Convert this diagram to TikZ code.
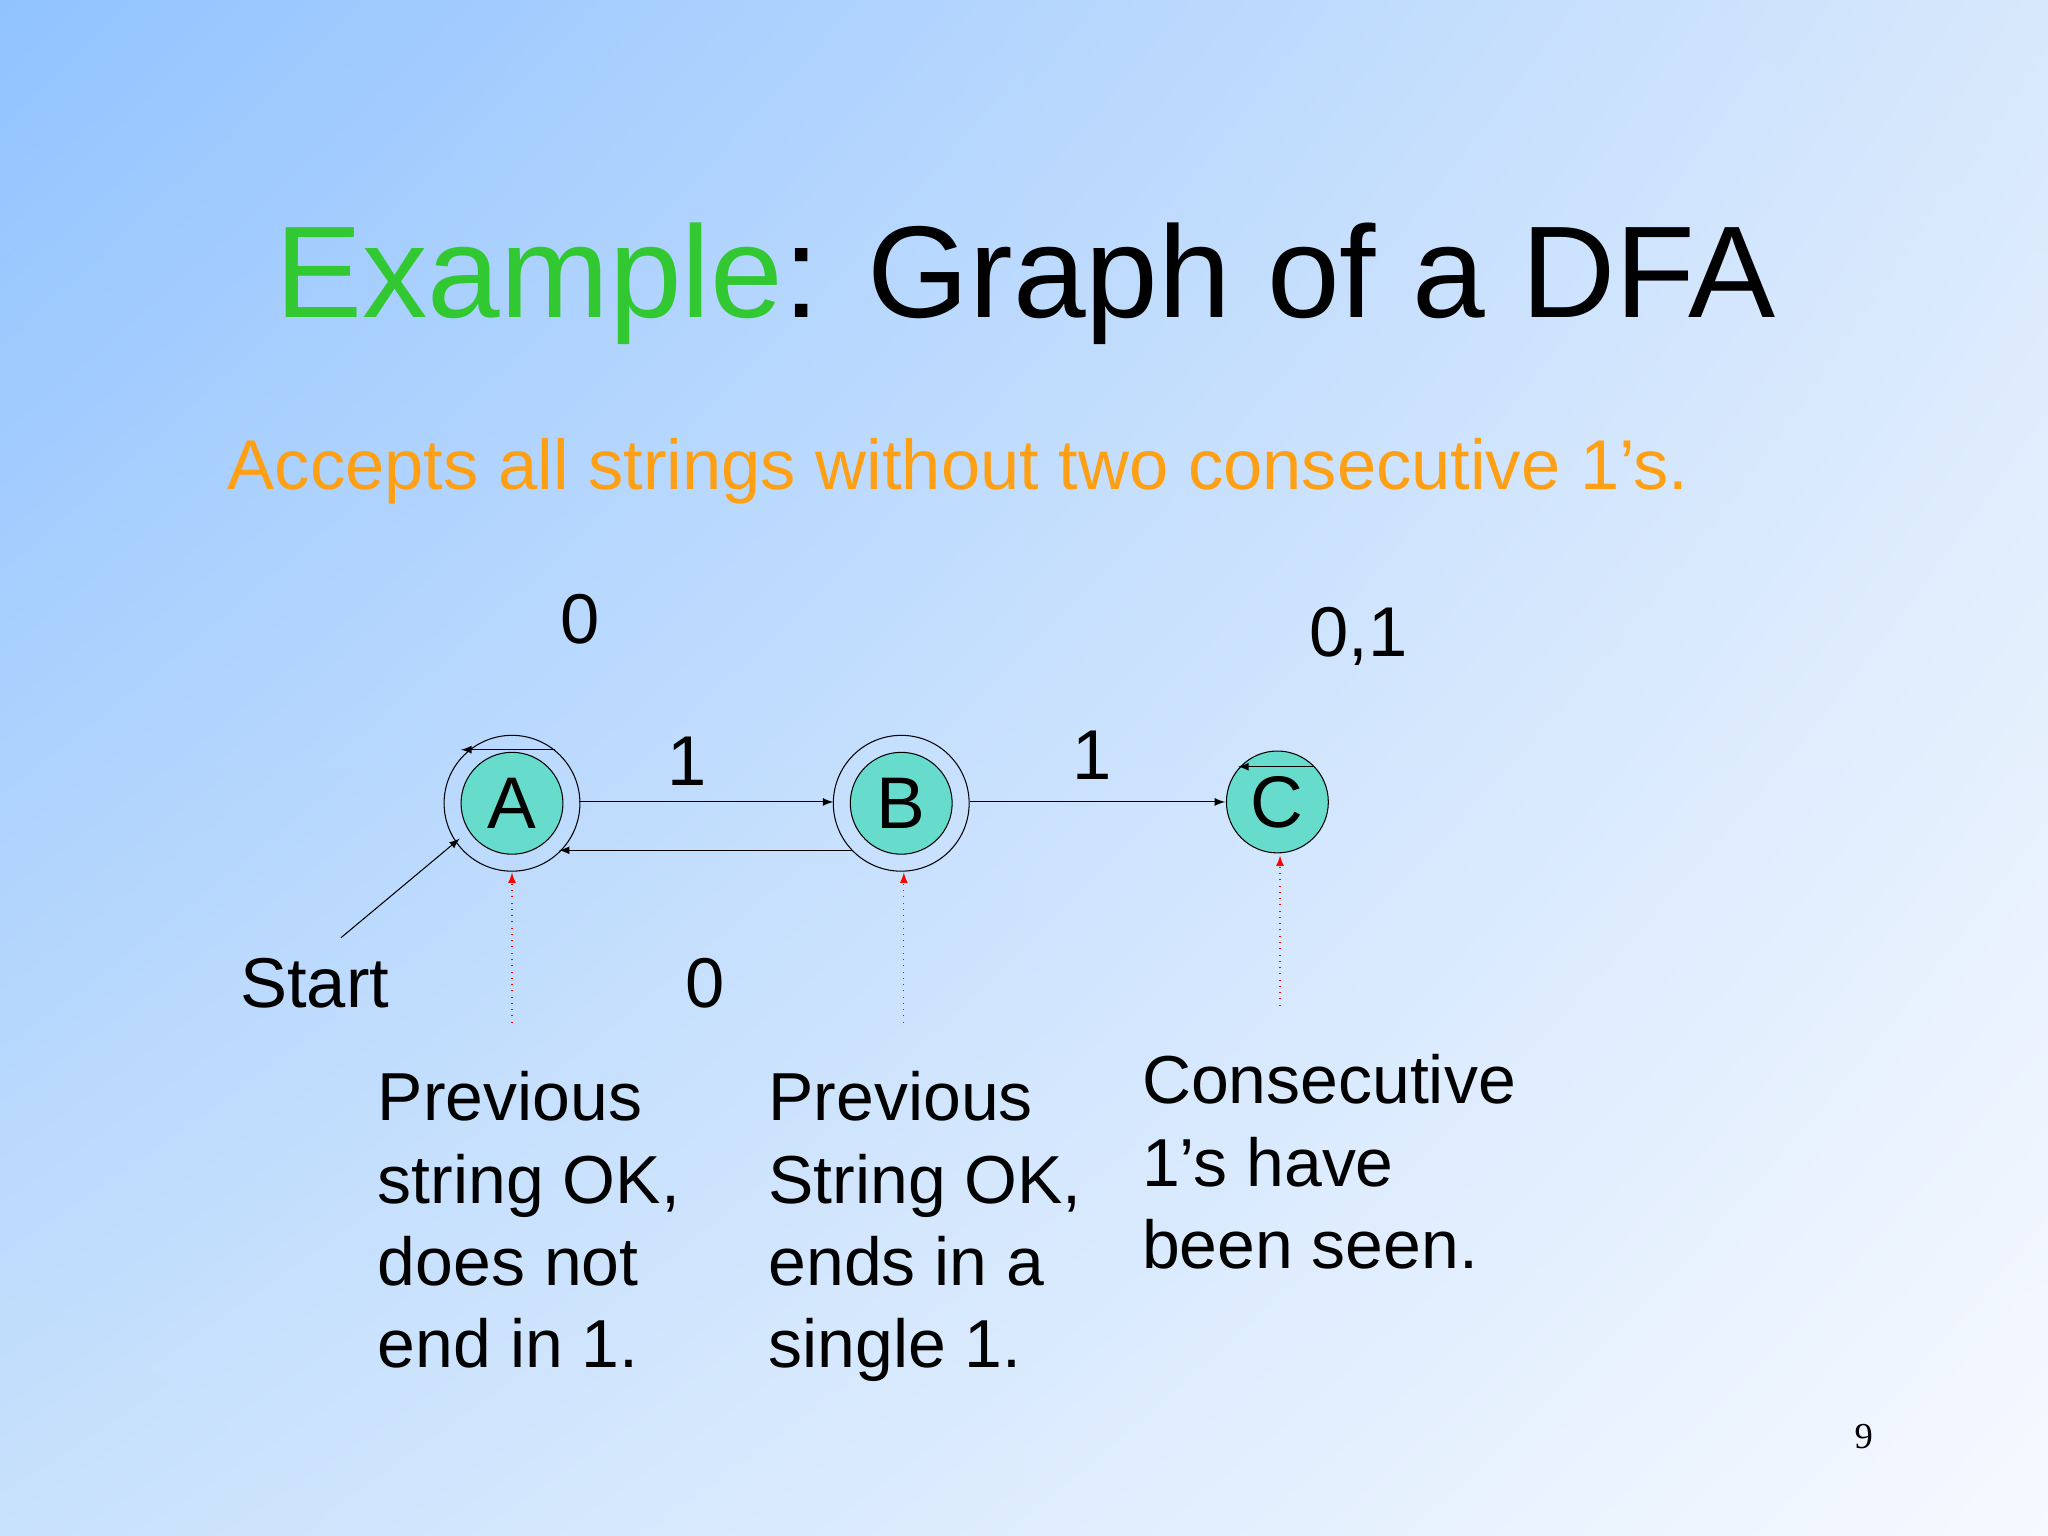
\documentclass[tikz,border=0pt]{standalone}
\usepackage{fontspec}
\usetikzlibrary{shadings}
\setmainfont{Liberation Sans}
\newfontfamily\serifnum{Liberation Serif}
\definecolor{stfill}{RGB}{104,220,204}
\definecolor{tgreen}{RGB}{50,200,50}
\definecolor{torange}{RGB}{255,160,20}
\definecolor{bgul}{RGB}{145,195,255}
\definecolor{bgur}{RGB}{215,232,252}
\definecolor{bgll}{RGB}{200,225,252}
\definecolor{bglr}{RGB}{246,249,255}
\begin{document}
\begin{tikzpicture}[x=0.5pt,y=-0.5pt,
  st/.style={circle,draw,fill=stfill,minimum size=39pt,inner sep=0pt,font=\fontsize{28}{30}\selectfont},
  acc/.style={circle,draw,minimum size=52pt,inner sep=0pt},
  lbl/.style={font=\fontsize{27}{30}\selectfont},
  body/.style={font=\fontsize{26}{31.5}\selectfont,align=left,anchor=north west,inner sep=0pt},
  ar/.style={-latex,thin},
  redarr/.style={-latex,red,dotted,thin}]
\useasboundingbox (0,0) rectangle (1568,1176);
\shade[upper left=bgul,upper right=bgur,lower left=bgll,lower right=bglr]
  (0,0) rectangle (1568,1176);
\node[font=\fontsize{50}{55}\selectfont,anchor=base] (title) at (785,243) {\textcolor{tgreen}{Example}: Graph of a DFA};
\node[font=\fontsize{27}{30}\selectfont,anchor=base west,inner sep=0pt,text=torange] (sub) at (174,375) {Accepts all strings without two consecutive 1’s.};
\node[st] (A) at (392,615) {A};
\node[acc] (Ao) at (392,615) {};
\node[st] (B) at (690,615) {B};
\node[acc] (Bo) at (690,615) {};
\node[st] (C) at (978,614) {C};
\coordinate (a1) at (443,614); \coordinate (b1) at (638,614);
\coordinate (b2) at (652,651); \coordinate (a2) at (428,651);
\coordinate (b3) at (743,614); \coordinate (c3) at (938,614);
\draw[ar] (a1) -- (b1);
\draw[ar] (b2) -- (a2);
\draw[ar] (b3) -- (c3);
\coordinate (la1) at (425,574); \coordinate (la2) at (353,574);
\draw[ar] (la1) -- (la2);
\coordinate (lc1) at (1005,587); \coordinate (lc2) at (948,587);
\draw[ar] (lc1) -- (lc2);
\coordinate (s0) at (261,718); \coordinate (s1) at (352,642);
\draw[ar] (s0) -- (s1);
\coordinate (ra) at (392,783); \coordinate (ra2) at (392,668);
\coordinate (rb) at (692,783); \coordinate (rb2) at (692,668);
\coordinate (rc) at (980,770); \coordinate (rc2) at (980,655);
\draw[redarr] (ra) -- (ra2);
\draw[redarr] (rb) -- (rb2);
\draw[redarr] (rc) -- (rc2);
\node[lbl] (l0) at (444,474) {0};
\node[lbl] (l1) at (526,583) {1};
\node[lbl] (l2) at (836,578) {1};
\node[lbl] (l3) at (1040,487) {0,1};
\node[lbl] (l4) at (540,753) {0};
\node[lbl] (start) at (241,753) {Start};
\node[body] (ta) at (289,820) {Previous\\string OK,\\does not\\end in 1.};
\node[body] (tb) at (588,820) {Previous\\String OK,\\ends in a\\single 1.};
\node[body] (tc) at (874,807) {Consecutive\\1’s have\\been seen.};
\node[font=\serifnum\fontsize{14}{16}\selectfont] (pg) at (1427,1100) {9};
\end{tikzpicture}
\end{document}
